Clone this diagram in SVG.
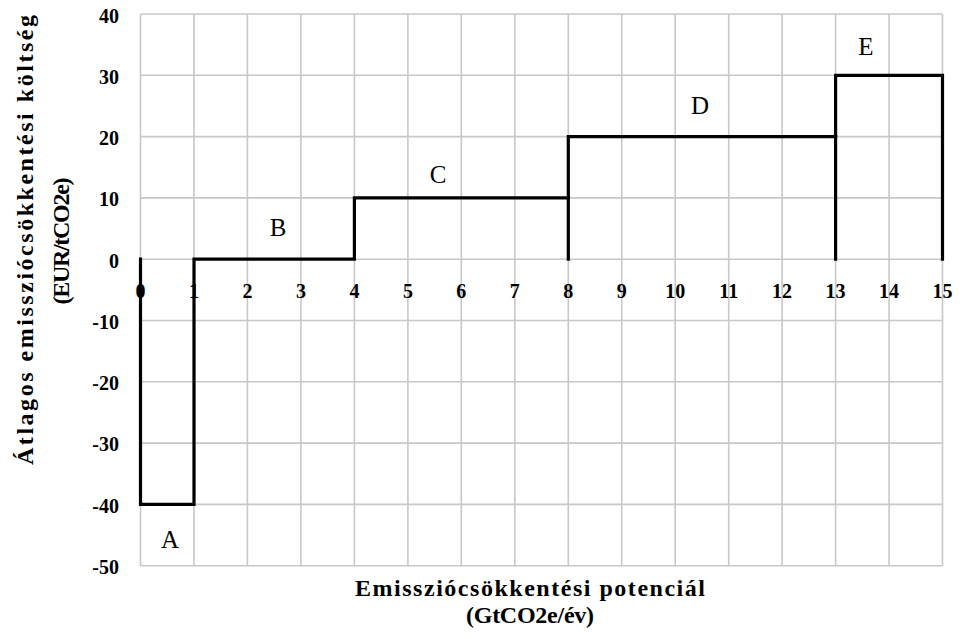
<svg xmlns="http://www.w3.org/2000/svg" width="963" height="639" viewBox="0 0 963 639">
<style>
.grid{stroke:#c8c8c8;stroke-width:1.6;fill:none}
.step{stroke:#000;stroke-width:3.2;fill:none;stroke-linecap:square}
.tick{font-family:"Liberation Serif","Times New Roman",serif;font-weight:bold;font-size:20px;fill:#000}
.lbl{font-family:"Liberation Serif","Times New Roman",serif;font-size:25px;fill:#000;text-anchor:middle}
.title{font-family:"Liberation Serif","Times New Roman",serif;font-weight:bold;font-size:24px;fill:#000;text-anchor:middle}
</style>
<rect width="963" height="639" fill="#fff"/>
<g id="grid">
<path class="grid" d="M140.5 14V566M194 14V566M247.4 14V566M300.9 14V566M354.4 14V566M407.9 14V566M461.3 14V566M514.8 14V566M568.3 14V566M621.7 14V566M675.2 14V566M728.7 14V566M782.1 14V566M835.6 14V566M889.1 14V566M942.5 14V566"/>
<path class="grid" d="M140.5 14H942.5M140.5 75.3H942.5M140.5 136.6H942.5M140.5 197.9H942.5M140.5 259.2H942.5M140.5 320.5H942.5M140.5 381.8H942.5M140.5 443.1H942.5M140.5 504.4H942.5M140.5 565.7H942.5"/>
</g>
<g id="y-ticks" class="tick" text-anchor="end">
<text x="119" y="23">40</text>
<text x="119" y="84">30</text>
<text x="119" y="145">20</text>
<text x="119" y="206">10</text>
<text x="119" y="268">0</text>
<text x="119" y="329">-10</text>
<text x="119" y="390">-20</text>
<text x="119" y="451">-30</text>
<text x="119" y="513">-40</text>
<text x="119" y="574">-50</text>
</g>
<g id="x-ticks" class="tick" text-anchor="middle">
<text x="140.5" y="298">0</text>
<text x="194" y="298">1</text>
<text x="247.4" y="298">2</text>
<text x="300.9" y="298">3</text>
<text x="354.4" y="298">4</text>
<text x="407.9" y="298">5</text>
<text x="461.3" y="298">6</text>
<text x="514.8" y="298">7</text>
<text x="568.3" y="298">8</text>
<text x="621.7" y="298">9</text>
<text x="675.2" y="298">10</text>
<text x="728.7" y="298">11</text>
<text x="782.1" y="298">12</text>
<text x="835.6" y="298">13</text>
<text x="889.1" y="298">14</text>
<text x="942.5" y="298">15</text>
</g>
<g id="steps">
<path class="step" d="M140.5 259.2V504.4H194V259.2H354.4V197.9H568.3"/>
<path class="step" d="M568.3 259.2V136.6H835.6"/>
<path class="step" d="M835.6 259.2V75.3H942.5V259.2"/>
</g>
<g id="label-A"><text class="lbl" x="170" y="548">A</text></g>
<g id="label-B"><text class="lbl" x="278" y="236">B</text></g>
<g id="label-C"><text class="lbl" x="438" y="183">C</text></g>
<g id="label-D"><text class="lbl" x="700" y="114">D</text></g>
<g id="label-E"><text class="lbl" x="866" y="55">E</text></g>
<g id="x-title">
<text class="title" x="530" y="596" textLength="350" lengthAdjust="spacing">Emissziócsökkentési potenciál</text>
<text class="title" x="530" y="623" textLength="128" lengthAdjust="spacing">(GtCO2e/év)</text>
</g>
<g id="y-title">
<text class="title" transform="translate(33 240) rotate(-90)" textLength="450" lengthAdjust="spacing">Átlagos emissziócsökkentési költség</text>
<text class="title" transform="translate(69 241) rotate(-90)" textLength="127" lengthAdjust="spacing">(EUR/tCO2e)</text>
</g>
</svg>
